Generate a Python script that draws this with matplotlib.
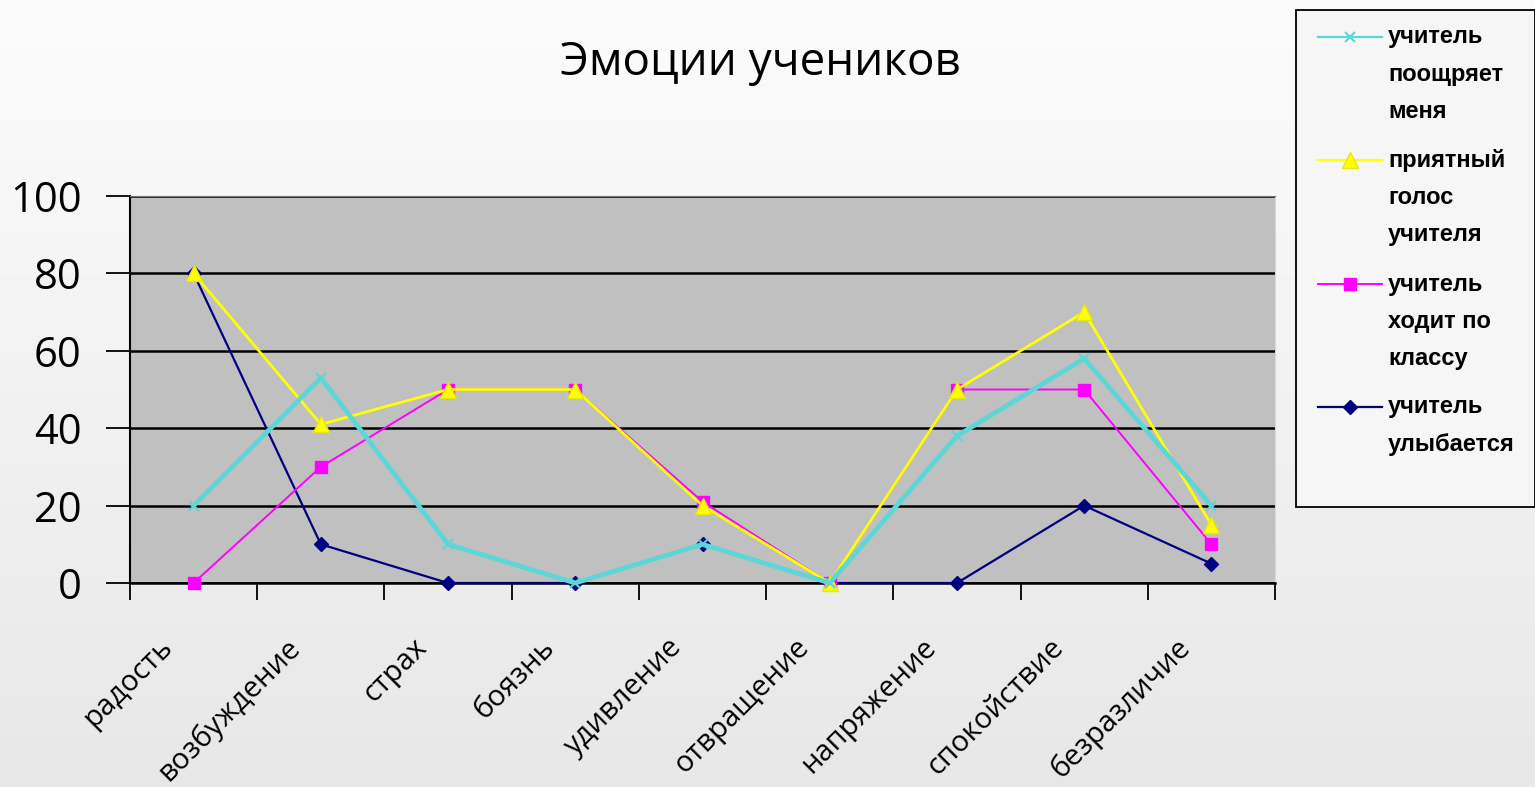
import numpy as np
import matplotlib.pyplot as plt
import matplotlib.transforms as mtransforms
from matplotlib.lines import Line2D
from matplotlib.patches import Rectangle

plt.rcParams['font.family'] = ['Open Sans', 'DejaVu Sans']

categories = ['радость', 'возбуждение', 'страх', 'боязнь', 'удивление',
              'отвращение', 'напряжение', 'спокойствие', 'безразличие']
encourages = [20, 53, 10, 0, 10, 0, 38, 58, 20]
pleasant_voice = [80, 41, 50, 50, 20, 0, 50, 70, 15]
walks_class = [0, 30, 50, 50, 21, 0, 50, 50, 10]
smiles = [80, 10, 0, 0, 10, 0, 0, 20, 5]
series_labels = ['учитель\nпоощряет\nменя', 'приятный\nголос\nучителя',
                 'учитель\nходит по\nклассу', 'учитель\nулыбается']
y_ticks = [0, 20, 40, 60, 80, 100]

W, H = 1535, 787
fig = plt.figure(figsize=(W / 100, H / 100), dpi=100)

# soft gradient background
bg = fig.add_axes([0, 0, 1, 1], zorder=-10)
grad = np.linspace(0.985, 0.905, 256).reshape(-1, 1)
bg.imshow(grad, cmap='gray', vmin=0, vmax=1, aspect='auto', extent=[0, 1, 0, 1])
bg.axis('off')

ax = fig.add_axes([130 / W, 1 - 583 / H, (1275 - 130) / W, (583 - 196) / H])
ax.set_facecolor('#c0c0c0')
x = np.arange(len(categories))

styles = [
    (encourages, dict(color='#5cd6d6', lw=3.4, marker='x', ms=7, mew=1.5)),
    (pleasant_voice, dict(color='#ffff00', lw=2.0, marker='^', ms=11,
                          mec='#e8e800')),
    (walks_class, dict(color='#ff00ff', lw=1.4, marker='s', ms=9)),
    (smiles, dict(color='#000080', lw=1.6, marker='D', ms=7)),
]
zorders = [3.5, 3.2, 3.1, 3.0]
for (vals, st), z in zip(styles, zorders):
    ax.plot(x, vals, zorder=z, clip_on=False, **st)

ax.set_xlim(-0.5, len(categories) - 0.5)
ax.set_ylim(0, 100)
ax.set_yticks(y_ticks)
ax.set_yticklabels([str(v) for v in y_ticks], fontsize=30)
ax.yaxis.grid(True, color='black', lw=1.8)
ax.set_axisbelow(True)
ax.tick_params(axis='y', direction='out', length=17, width=1.3, pad=18)

# category labels: placed as rotated texts under each category
ax.set_xticks(x)
ax.set_xticklabels([])
ax.tick_params(axis='x', which='major', length=0)
shift = mtransforms.ScaledTranslation(-25 / 100, -60 / 100, fig.dpi_scale_trans)
lbl_trans = ax.get_xaxis_transform() + shift
for xi, cat in zip(x, categories):
    ax.text(xi, 0, cat, transform=lbl_trans, rotation=45, ha='right',
            va='center', rotation_mode='anchor', fontsize=21)
ax.set_xticks(np.arange(len(categories) + 1) - 0.5, minor=True)
ax.tick_params(axis='x', which='minor', direction='out', length=12, width=1.3)

ax.spines['left'].set_linewidth(1.5)
ax.spines['bottom'].set_linewidth(1.8)
ax.spines['top'].set_color('#707070')
ax.spines['right'].set_color('#d8d8d8')

fig.text(760 / W, 1 - 63 / H, 'Эмоции учеников', fontsize=33,
         ha='center', va='center')

# legend box drawn in figure pixels
fig.patches.append(Rectangle((1296 / W, 1 - 507 / H), (W - 1296) / W, 497 / H,
                             transform=fig.transFigure, fc='#f6f6f6',
                             ec='black', lw=1.3, zorder=5))
entry_y = [37, 160, 284, 407]
line_gap = 37.5
for (vals, st), lab, yy in zip(styles, series_labels, entry_y):
    yf = 1 - yy / H
    kw = dict(st)
    kw['lw'] = min(kw['lw'], 1.6)
    fig.add_artist(Line2D([1318 / W, 1350 / W, 1382 / W], [yf, yf, yf],
                          transform=fig.transFigure, zorder=6,
                          markevery=[1], **kw))
    for k, part in enumerate(lab.split('\n')):
        fig.text(1388 / W, 1 - (yy + k * line_gap) / H, part, fontsize=17,
                 fontweight='bold', ha='left', va='center', zorder=6,
                 family=['Liberation Sans', 'DejaVu Sans'])

fig.savefig('out.png', dpi=100)
